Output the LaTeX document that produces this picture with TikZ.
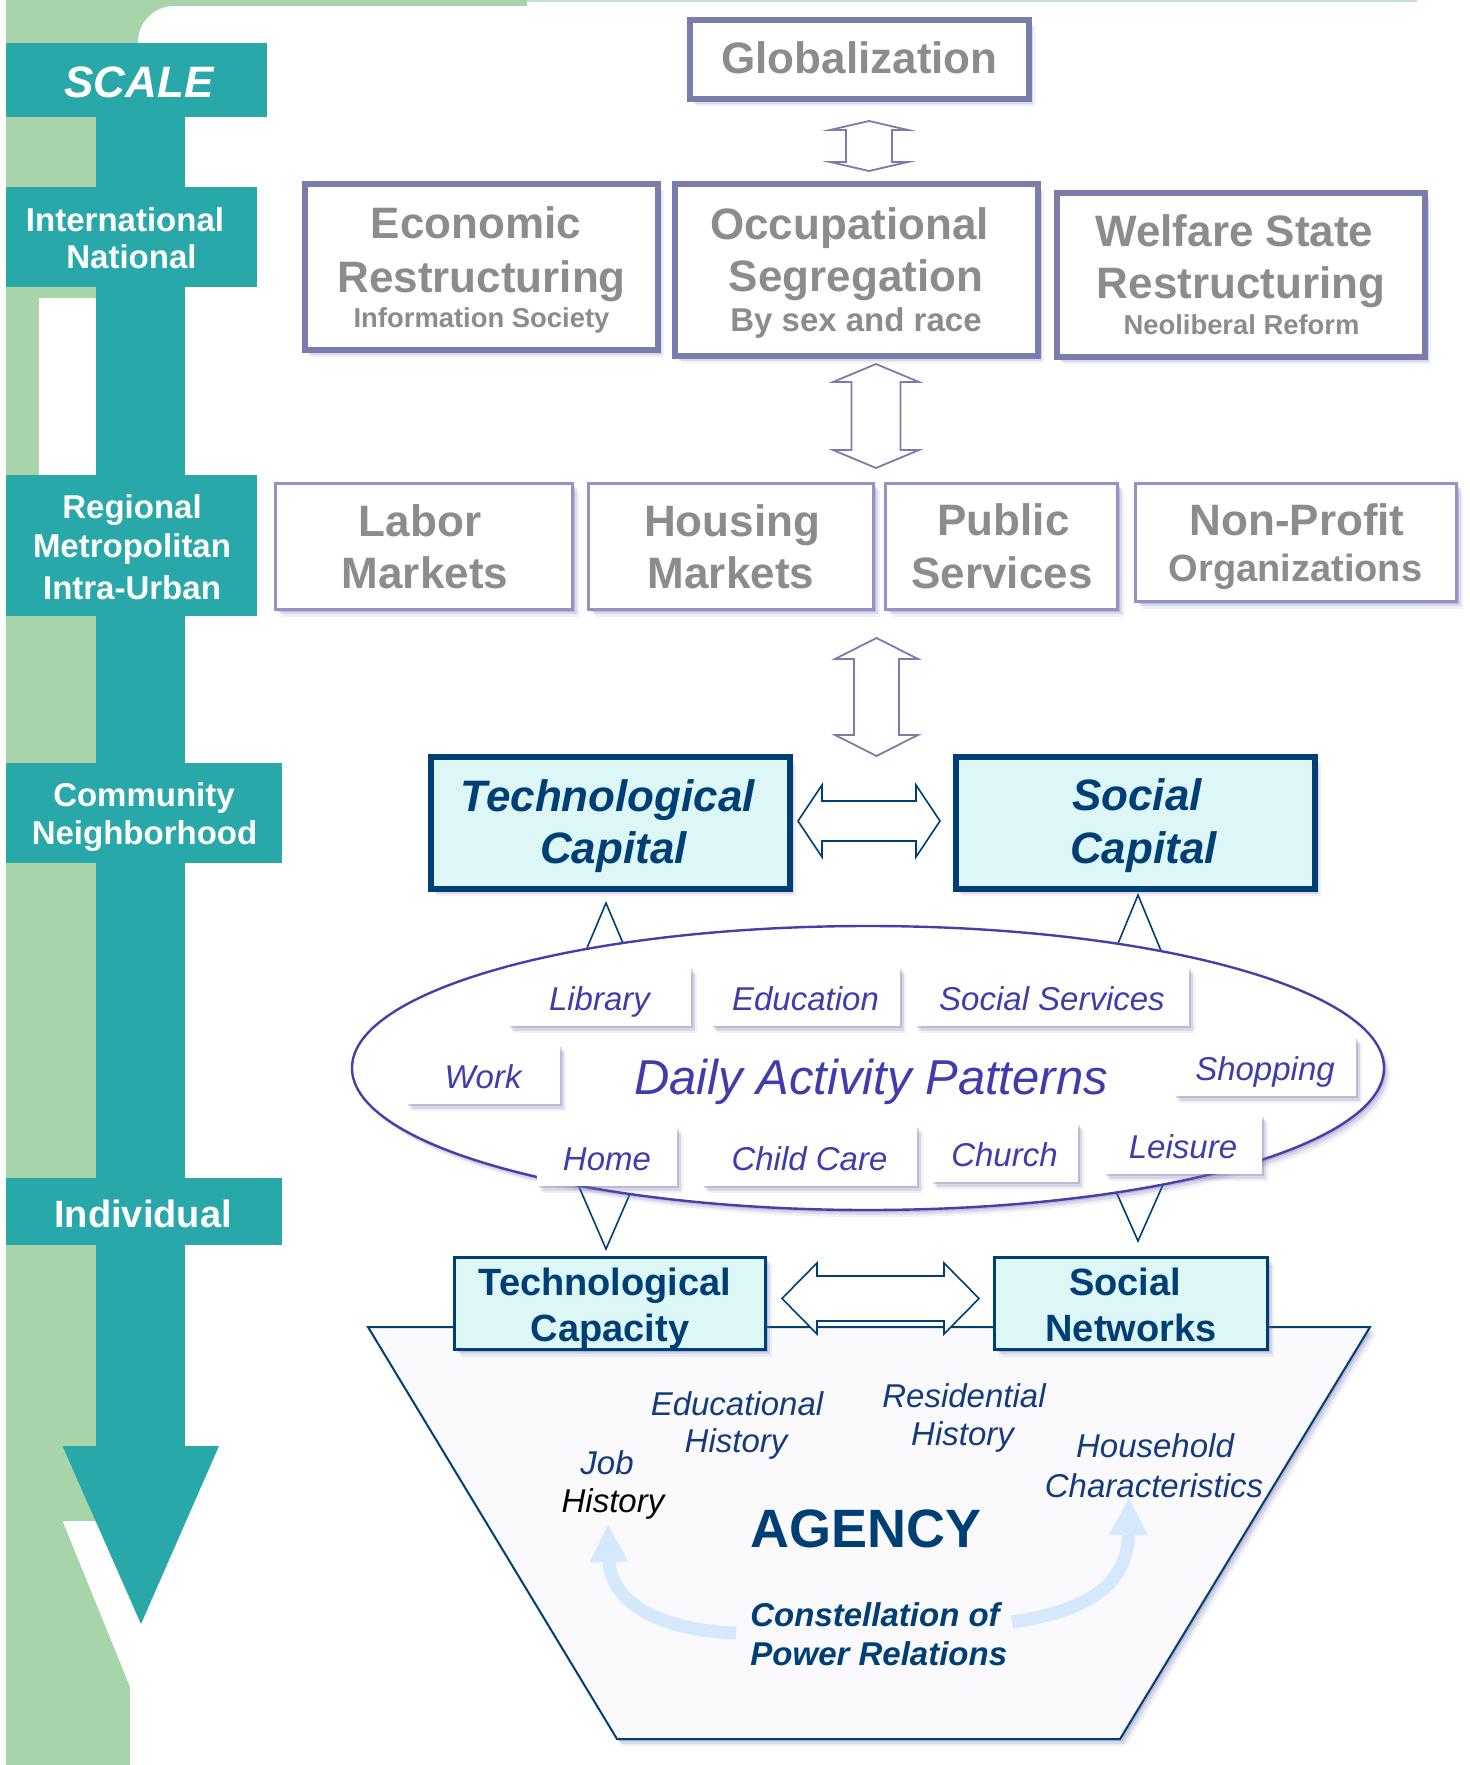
\documentclass[tikz,border=0pt]{standalone}
\usepackage{fontspec}
\setmainfont{Liberation Sans}
\usetikzlibrary{calc,shapes.geometric,shadows,arrows.meta}

\definecolor{tealc}{RGB}{41,168,170}
\definecolor{greenc}{RGB}{168,212,170}
\definecolor{greenl}{RGB}{196,226,198}
\definecolor{gbord}{RGB}{122,124,172}
\definecolor{gbordl}{RGB}{146,148,198}
\definecolor{gtext}{RGB}{140,140,140}
\definecolor{navy}{RGB}{0,62,118}
\definecolor{navyt}{RGB}{20,60,125}
\definecolor{cyanf}{RGB}{221,246,246}
\definecolor{ellc}{RGB}{72,62,168}
\definecolor{actc}{RGB}{64,60,172}
\definecolor{trapf}{RGB}{250,250,253}
\definecolor{ltblue}{RGB}{214,233,252}
\definecolor{shc}{RGB}{110,110,170}

\newcommand\fsz[1]{\fontsize{#1}{#1}\selectfont}

% vertical two-headed block arrow: top tip, bottom tip, shaft half width, head half width, head length, style
\newcommand\vdblarr[6]{%
  \draw[#6] (#1) -- ($(#1)+(#4,#5)$) -- ($(#1)+(#3,#5)$) -- ($(#2)+(#3,-#5)$)
    -- ($(#2)+(#4,-#5)$) -- (#2) -- ($(#2)+(-#4,-#5)$) -- ($(#2)+(-#3,-#5)$)
    -- ($(#1)+(-#3,#5)$) -- ($(#1)+(-#4,#5)$) -- cycle;}
% horizontal two-headed block arrow: left tip, right tip, shaft half height, head half height, head length, style
\newcommand\hdblarr[6]{%
  \draw[#6] (#1) -- ($(#1)+(#5,-#4)$) -- ($(#1)+(#5,-#3)$) -- ($(#2)+(-#5,-#3)$)
    -- ($(#2)+(-#5,-#4)$) -- (#2) -- ($(#2)+(-#5,#4)$) -- ($(#2)+(-#5,#3)$)
    -- ($(#1)+(#5,#3)$) -- ($(#1)+(#5,#4)$) -- cycle;}

\tikzset{
  softsh/.style={
    drop shadow={shadow xshift=1pt,shadow yshift=-1.2pt,fill=shc,opacity=.28},
    drop shadow={shadow xshift=2pt,shadow yshift=-2.4pt,fill=shc,opacity=.18},
    drop shadow={shadow xshift=3pt,shadow yshift=-3.6pt,fill=shc,opacity=.10}},
  tbox/.style={fill=tealc, inner sep=0pt, outer sep=0pt},
  ttext/.style={text=white, font=\bfseries\fsz{16.5}, anchor=base, inner sep=0pt},
  gboxA/.style={draw=gbord, line width=3pt, fill=white, inner sep=0pt, softsh},
  gboxB/.style={draw=gbordl, line width=1.5pt, fill=white, inner sep=0pt, softsh},
  gtxt/.style={text=gtext, font=\bfseries\fsz{22}, anchor=base, inner sep=0pt},
  gsub/.style={text=gtext, font=\bfseries\fsz{13.7}, anchor=base, inner sep=0pt},
  capbox/.style={draw=navy, line width=2.8pt, fill=cyanf, inner sep=0pt, softsh},
  capt/.style={text=navy, font=\bfseries\itshape\fsz{22}, anchor=base, inner sep=0pt},
  cpybox/.style={draw=navy, line width=1.5pt, fill=cyanf, inner sep=0pt, softsh},
  cpyt/.style={text=navy, font=\bfseries\fsz{19}, anchor=base, inner sep=0pt},
  blockg/.style={draw=gbord, line width=0.9pt, fill=white},
  blockn/.style={draw=navy, line width=0.8pt, fill=white},
  wedge/.style={draw=navy, line width=0.8pt, fill=white},
  act/.style={fill=white, softsh, inner sep=0pt, minimum height=29.5pt, text=actc,
    font=\itshape\fsz{16.5}, text height=14.3pt, text depth=0pt},
  hist/.style={text=navyt, font=\itshape\fsz{16.5}, anchor=base, inner sep=0pt},
  power/.style={text=navy, font=\bfseries\itshape\fsz{16.5}, anchor=base west, inner sep=0pt},
  ltarrow/.style={draw=ltblue, line width=6.5pt, -{Triangle[width=18pt,length=19pt]}},
}

\begin{document}
\begin{tikzpicture}[x=0.5pt,y=-0.5pt]
\path[use as bounding box] (0,0) rectangle (1469,1765);

% green frame along the left side and the top
\fill[greenc] (6,0) -- (527,0) -- (527,6) -- (174,6) .. controls (154,6) and (138,22) .. (138,42)
  -- (138,1521) -- (62.5,1521) -- (130,1687) -- (130,1765) -- (6,1765) -- cycle;
\fill[white] (39,298) rectangle (96,475);
\fill[greenl] (527,0) rectangle (1417,2);

% scale column and its arrow head
\fill[tealc] (96,117) rectangle (185,1446);
\fill[tealc] (62.5,1446) -- (219,1446) -- (141,1624) -- cycle;

% scale levels
\node[tbox, minimum width=130.5pt, minimum height=37pt] (scale) at (136.5,80) {};
\node[ttext, font=\bfseries\itshape\fsz{22}] (scalet) at (139,97.8) {SCALE};
\node[tbox, minimum width=125.5pt, minimum height=50pt] (intl) at (131.5,237) {};
\node[ttext] (intl1) at (125,231.9) {International};
\node[ttext] (intl2) at (131.5,268.9) {National};
\node[tbox, minimum width=125.5pt, minimum height=70.5pt] (regl) at (131.5,545.5) {};
\node[ttext] (regl1) at (132,518.4) {Regional};
\node[ttext] (regl2) at (132,557.9) {Metropolitan};
\node[ttext] (regl3) at (132,599.9) {Intra-Urban};
\node[tbox, minimum width=138pt, minimum height=50pt] (comm) at (144,813) {};
\node[ttext] (comm1) at (144,806.9) {Community};
\node[ttext] (comm2) at (144.5,844.9) {Neighborhood};
\node[tbox, minimum width=138pt, minimum height=33.5pt] (indv) at (144,1211.5) {};
\node[ttext, font=\bfseries\fsz{19}] (indvt) at (143,1227) {Individual};

% global forces
\node[gboxA, minimum width=169.5pt, minimum height=39.5pt] (glob) at (859.5,59.5) {};
\node[gtxt] (globt) at (859.5,73.8) {Globalization};
\node[gboxA, minimum width=176.5pt, minimum height=83pt] (econ) at (481.5,267) {};
\node[gtxt] (econ1) at (476,239) {Economic};
\node[gtxt] (econ2) at (481.6,292.5) {Restructuring};
\node[gsub] (econ3) at (481.5,327.5) {Information Society};
\node[gboxA, minimum width=181.5pt, minimum height=86pt] (occ) at (856.5,270) {};
\node[gtxt] (occ1) at (849.5,239.5) {Occupational};
\node[gtxt] (occ2) at (856,292) {Segregation};
\node[gsub, font=\bfseries\fsz{16.5}] (occ3) at (856,331.5) {By sex and race};
\node[gboxA, minimum width=184pt, minimum height=82pt] (wel) at (1241,275) {};
\node[gtxt] (wel1) at (1234.5,246.5) {Welfare State};
\node[gtxt] (wel2) at (1241,299) {Restructuring};
\node[gsub] (wel3) at (1241.5,335) {Neoliberal Reform};

% regional institutions
\node[gboxB, minimum width=148.5pt, minimum height=63pt] (labor) at (424,546.5) {};
\node[gtxt] (labor1) at (420,536.5) {Labor};
\node[gtxt] (labor2) at (425,588.5) {Markets};
\node[gboxB, minimum width=142.5pt, minimum height=63pt] (hous) at (731,546.5) {};
\node[gtxt] (hous1) at (732,536.5) {Housing};
\node[gtxt] (hous2) at (731,588.5) {Markets};
\node[gboxB, minimum width=116pt, minimum height=63pt] (pub) at (1001.5,546.5) {};
\node[gtxt] (pub1) at (1003.5,535.5) {Public};
\node[gtxt] (pub2) at (1002,588.5) {Services};
\node[gboxB, minimum width=160.5pt, minimum height=59pt] (npo) at (1296,542.5) {};
\node[gtxt] (npo1) at (1297,535.5) {Non-Profit};
\node[gtxt, font=\bfseries\fsz{19}] (npo2) at (1295.5,581) {Organizations};

% links between the levels
\coordinate (a1t) at (869,121);   \coordinate (a1b) at (869,171);
\vdblarr{a1t}{a1b}{23}{39}{9}{blockg}
\coordinate (a2t) at (876,364);   \coordinate (a2b) at (876,468);
\vdblarr{a2t}{a2b}{24.5}{43}{18}{blockg}
\coordinate (a3t) at (876.5,638); \coordinate (a3b) at (876.5,756);
\vdblarr{a3t}{a3b}{22.5}{41.5}{21}{blockg}

% capitals
\node[capbox, minimum width=179.7pt, minimum height=66.2pt] (tcap) at (610.5,823) {};
\node[capt] (tcap1) at (608,811.8) {Technological};
\node[capt] (tcap2) at (613.5,863) {Capital};
\node[capbox, minimum width=179.7pt, minimum height=66.2pt] (scap) at (1135.5,823) {};
\node[capt] (scap1) at (1137,810) {Social};
\node[capt] (scap2) at (1143.5,863) {Capital};
\coordinate (a4l) at (798,821); \coordinate (a4r) at (940,821);
\hdblarr{a4l}{a4r}{20}{36}{24}{blockn}

% wedges joining the activity patterns to the boxes above and below
\coordinate (w1) at (606,903);  \draw[wedge] (w1) -- (575.6,975) -- (636.4,975) -- cycle;
\coordinate (w2) at (1138,895); \draw[wedge] (w2) -- (1105,975) -- (1171,975) -- cycle;
\coordinate (w3) at (606,1249); \draw[wedge] (w3) -- (567.4,1160) -- (644.6,1160) -- cycle;
\coordinate (w4) at (1138,1241);\draw[wedge] (w4) -- (1102,1160) -- (1174,1160) -- cycle;

% daily activity patterns
\node[ellipse, draw=ellc, line width=1.2pt, fill=white, softsh, minimum width=516pt,
  minimum height=142pt, inner sep=0pt] (dap) at (868,1068) {};
\node[act, minimum width=91.5pt] (lib) at (599.5,996.5) {Library};
\node[act, minimum width=94.5pt] (edu) at (805.5,996.5) {Education};
\node[act, minimum width=137pt] (socs) at (1052,996.5) {Social Services};
\node[act, minimum width=77pt] (work) at (483,1074.5) {Work};
\node[act, minimum width=91pt] (shop) at (1265,1066.5) {Shopping};
\node[act, minimum width=70pt] (home) at (607,1156.5) {Home};
\node[act, minimum width=107.5pt, minimum height=30pt] (child) at (809.5,1156) {Child Care};
\node[act, minimum width=73.5pt] (church) at (1004.5,1152.5) {Church};
\node[act, minimum width=79pt] (leis) at (1183,1144.5) {Leisure};
\node[text=actc, font=\itshape\fsz{24.5}, anchor=base, inner sep=0pt] (dapt) at (871,1094.5) {Daily Activity Patterns};

% agency funnel
\path[draw=navy, line width=1pt, fill=trapf, softsh]
  (368,1327) -- (1370,1327) -- (1120,1739) -- (617,1739) -- cycle;
\node[cpybox, minimum width=155.5pt, minimum height=46pt] (tcpy) at (610,1303.5) {};
\node[cpyt] (tcpy1) at (605,1295.5) {Technological};
\node[cpyt] (tcpy2) at (610,1341) {Capacity};
\node[cpybox, minimum width=136.5pt, minimum height=46pt] (snet) at (1131,1303.5) {};
\node[cpyt] (snet1) at (1125,1295.5) {Social};
\node[cpyt] (snet2) at (1131,1341) {Networks};
\coordinate (a5l) at (782,1298.5); \coordinate (a5r) at (979,1298.5);
\hdblarr{a5l}{a5r}{22.5}{35.5}{35}{blockn}

% power relations feeding the histories
\coordinate (lstart) at (736,1633); \coordinate (jobtip) at (608,1524);
\coordinate (rstart) at (1012,1622); \coordinate (hhtip) at (1129,1497);
\draw[ltarrow] (lstart) .. controls (655,1630) and (610,1600) .. (jobtip);
\draw[ltarrow] (rstart) .. controls (1095,1610) and (1128,1580) .. (hhtip);

\node[hist] (edu1) at (737,1415.5) {Educational};
\node[hist] (edu2) at (736,1452) {History};
\node[hist] (res1) at (964,1407) {Residential};
\node[hist] (res2) at (962.5,1445) {History};
\node[hist] (job1) at (607,1474.5) {Job};
\node[hist, text=black] (job2) at (613,1512.7) {History};
\node[hist] (hh1) at (1155,1457.6) {Household};
\node[hist] (hh2) at (1154,1497) {Characteristics};
\node[text=navy, font=\bfseries\fsz{27}, anchor=base, inner sep=0pt] (agency) at (866,1547.7) {AGENCY};
\node[power] (pow1) at (750,1626) {Constellation of};
\node[power] (pow2) at (750,1665) {Power Relations};

\end{tikzpicture}
\end{document}
